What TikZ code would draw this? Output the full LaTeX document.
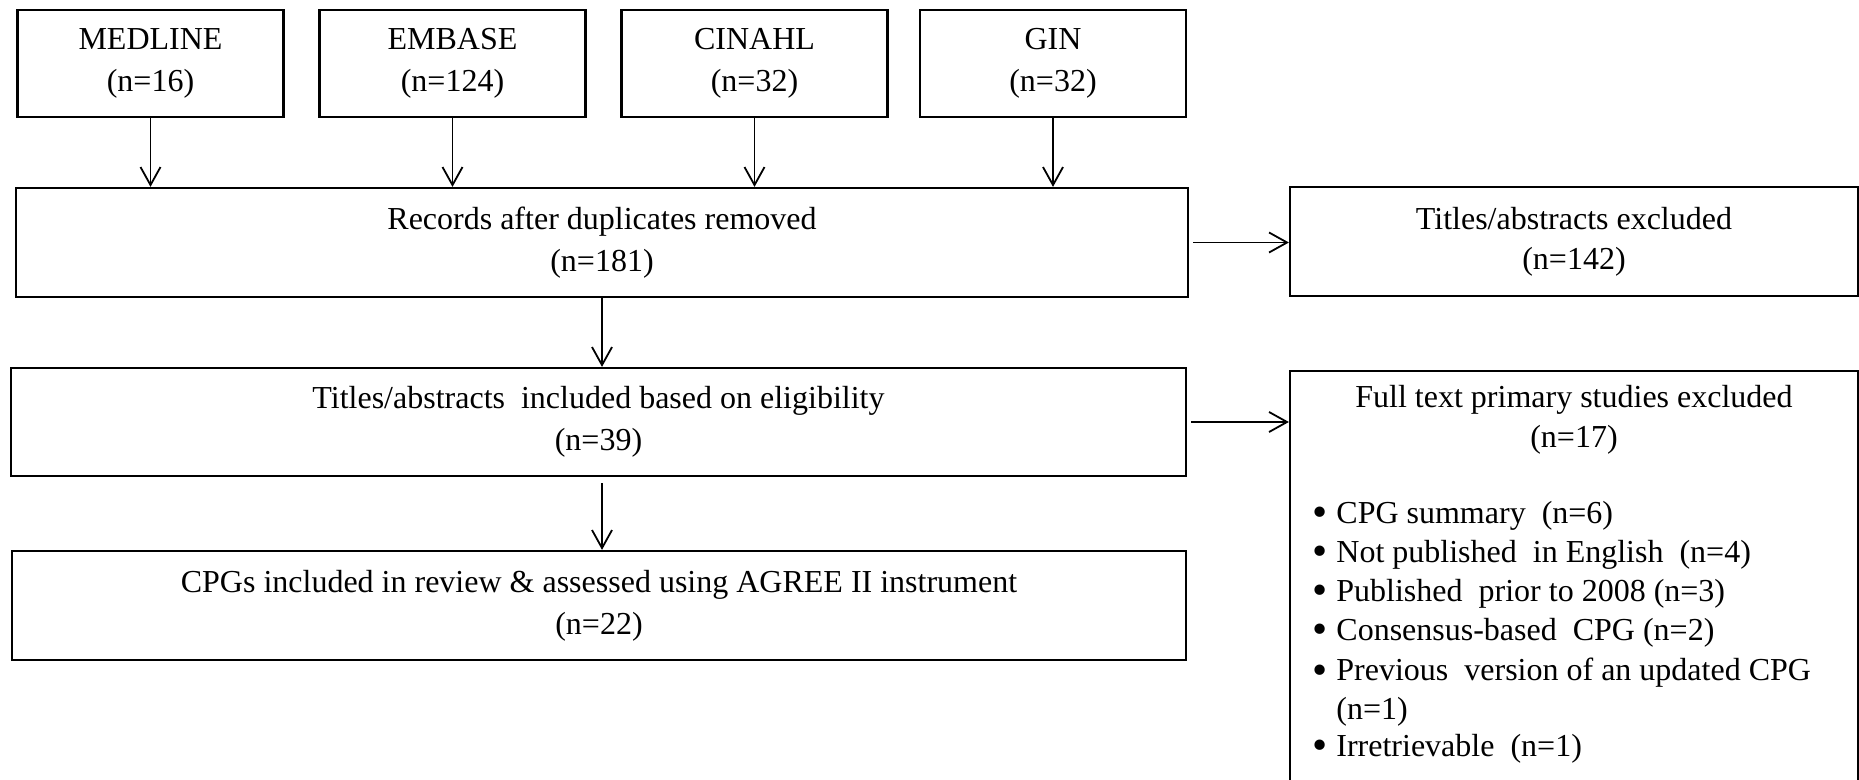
\documentclass[tikz,border=0pt]{standalone}
\usepackage{fontspec}
\setmainfont{Liberation Serif}
\usetikzlibrary{arrows.meta}
\newcommand{\bigbul}{\makebox[12pt][l]{\raisebox{-1.6pt}{\scalebox{1.35}{\textbullet}}}}
\begin{document}
\begin{tikzpicture}[x=0.5pt,y=-0.5pt,
  box/.style={draw, line width=1.1pt, inner sep=0pt, align=center, font=\fontsize{16}{21}\selectfont},
  rbox/.style={draw, line width=1.1pt, inner sep=0pt, align=center, font=\fontsize{16}{20}\selectfont},
  txt/.style={inner sep=0pt, align=center, font=\fontsize{16}{20}\selectfont},
  item/.style={inner sep=0pt, anchor=west, font=\fontsize{16}{20}\selectfont},
  arr/.style={-{Straight Barb[length=9pt,width=10pt]}, line width=0.9pt}]
\clip (0,0) rectangle (1859,780);
\fill[white] (0,0) rectangle (1859,780);
% top sources
\node[box, minimum width=133pt, minimum height=53.5pt] (med) at (150.5,63.5) {MEDLINE\\(n=16)};
\node[box, minimum width=133pt, minimum height=53.5pt] (emb) at (452.5,63.5) {EMBASE\\(n=124)};
\node[box, minimum width=133pt, minimum height=53.5pt] (cin) at (754.5,63.5) {CINAHL\\(n=32)};
\node[box, minimum width=133pt, minimum height=53.5pt] (gin) at (1053,63.5) {GIN\\(n=32)};
% main column
\node[box, minimum width=586pt, minimum height=54.5pt] (rec) at (602,242.5) {Records after duplicates removed\\(n=181)};
\node[box, minimum width=587.5pt, minimum height=54pt] (inc) at (598.5,422) {Titles/abstracts\ \ included based on eligibility\\(n=39)};
\node[box, minimum width=587pt, minimum height=54.5pt] (cpg) at (599,605.5) {CPGs included in review \& assessed using AGREE II instrument\\(n=22)};
% right column
\node[rbox, minimum width=284pt, minimum height=54.5pt] (tex) at (1574,241.5) {Titles/abstracts excluded\\(n=142)};
\node[draw, line width=1.1pt, inner sep=0pt, minimum width=284pt, minimum height=215pt, anchor=north] (ft) at (1574,370) {};
\node[txt] (fttitle) at (1574,420) {Full text primary studies excluded\\(n=17)};
\node[item] (l1) at (1312,516) {\bigbul CPG summary\ \ (n=6)};
\node[item] (l2) at (1312,555) {\bigbul Not published\ \ in English\ \ (n=4)};
\node[item] (l3) at (1312,594) {\bigbul Published\ \ prior to 2008 (n=3)};
\node[item] (l4) at (1312,633) {\bigbul Consensus-based\ \ CPG (n=2)};
\node[item] (l5) at (1312,673) {\bigbul Previous\ \ version of an updated CPG};
\node[item] (l6) at (1312,712) {\makebox[12pt][l]{}(n=1)};
\node[item] (l7) at (1312,749) {\bigbul Irretrievable\ \ (n=1)};
% connectors
\draw[arr] (med.south) -- (med.south |- rec.north);
\draw[arr] (emb.south) -- (emb.south |- rec.north);
\draw[arr] (cin.south) -- (cin.south |- rec.north);
\draw[arr] (gin.south) -- (gin.south |- rec.north);
\draw[arr] ([xshift=2pt]rec.east) -- (rec.east -| tex.west);
\draw[arr] (rec.south) -- (rec.south |- inc.north);
\draw[arr] ([xshift=2pt]inc.east) -- (inc.east -| ft.west);
\draw[arr] ([yshift=-3pt]inc.south -| rec.south) -- (rec.south |- cpg.north);
\end{tikzpicture}
\end{document}
